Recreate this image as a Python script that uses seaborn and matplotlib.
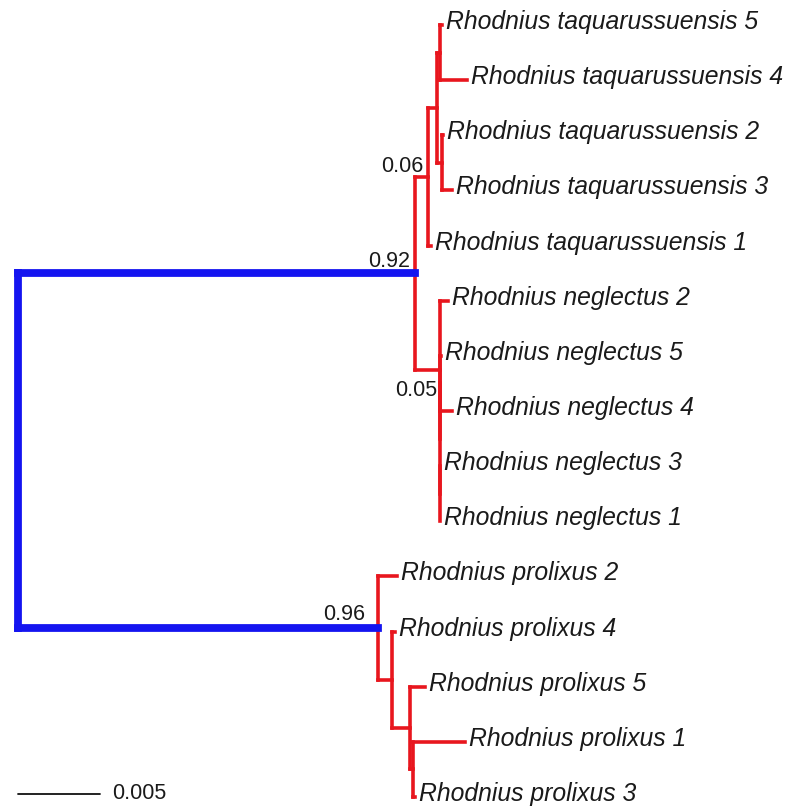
import numpy as np
import pandas as pd
import matplotlib.pyplot as plt
import seaborn as sns

# Leaves, top to bottom, with their parent node and branch length
leaf_labels = ["Rhodnius taquarussuensis 5", "Rhodnius taquarussuensis 4",
               "Rhodnius taquarussuensis 2", "Rhodnius taquarussuensis 3",
               "Rhodnius taquarussuensis 1",
               "Rhodnius neglectus 2", "Rhodnius neglectus 5", "Rhodnius neglectus 4",
               "Rhodnius neglectus 3", "Rhodnius neglectus 1",
               "Rhodnius prolixus 2", "Rhodnius prolixus 4", "Rhodnius prolixus 5",
               "Rhodnius prolixus 1", "Rhodnius prolixus 3"]
leaf_parent = ["C", "C", "D", "D", "A", "N", "N2", "N2", "N3", "N3",
               "L", "E", "F", "G", "G"]
leaf_length = [0.00012, 0.00165, 0.00006, 0.0006, 0.00018,
               0.0005, 0.00004, 0.00073, 0.00003, 0.00003,
               0.00116, 0.00018, 0.00091, 0.00317, 0.00012]

# Internal nodes (parent listed before child)
inner_nodes = ["U", "L", "A", "B", "C", "D", "N", "N1", "N2", "N3", "E", "F", "G"]
inner_parent = ["root", "root", "U", "A", "B", "B", "U", "N", "N1", "N1", "L", "E", "F"]
inner_length = [0.02421, 0.02195, 0.0008, 0.00055, 0.00018, 0.0003, 0.00152,
                0.0, 0.0, 0.0, 0.00085, 0.0011, 0.00018]

# Support values
support_nodes = ["U", "A", "N", "L"]
support_values = ["0.92", "0.06", "0.05", "0.96"]

scale_length = 0.005

# ---- tree layout ----
x = {"root": 0.0}
for n, p, l in zip(inner_nodes, inner_parent, inner_length):
    x[n] = x[p] + l
y = {}
children = {}
for i, (lab, p, l) in enumerate(zip(leaf_labels, leaf_parent, leaf_length)):
    x[lab] = x[p] + l
    y[lab] = i
    children.setdefault(p, []).append(lab)
for n, p in zip(inner_nodes, inner_parent):
    children.setdefault(p, []).append(n)


def node_y(n):
    if n not in y:
        ys = [node_y(c) for c in children[n]]
        y[n] = (min(ys) + max(ys)) / 2
    return y[n]


node_y("root")

parents = dict(zip(inner_nodes, inner_parent))
parents.update(dict(zip(leaf_labels, leaf_parent)))

# one row pair per segment: horizontal branches, then vertical connectors
rows = []
seg = 0
for n, p in parents.items():
    grp = "root" if p == "root" else "rest"
    rows += [(seg, grp, x[p], y[n]), (seg, grp, x[n], y[n])]
    seg += 1
for n, ch in children.items():
    ys = [y[c] for c in ch]
    grp = "root" if n == "root" else "rest"
    rows += [(seg, grp, x[n], min(ys)), (seg, grp, x[n], max(ys))]
    seg += 1
segs = pd.DataFrame(rows, columns=["seg", "grp", "x", "y"])

# ---- drawing ----
sns.set_style("white")
plt.rcParams["font.family"] = ["Liberation Sans", "DejaVu Sans"]

fig = plt.figure(figsize=(7.86, 8.07), dpi=100)
ax = fig.add_axes([0, 0, 1, 1])

sns.lineplot(data=segs[segs.grp == "rest"], x="x", y="y", units="seg",
             estimator=None, sort=False, color="#e8161e", linewidth=2.6,
             legend=False, ax=ax)
sns.lineplot(data=segs[segs.grp == "root"], x="x", y="y", units="seg",
             estimator=None, sort=False, color="#1414f0", linewidth=5.6,
             legend=False, ax=ax)
for line in ax.lines:
    line.set_solid_capstyle("projecting")

for lab in leaf_labels:
    ax.annotate(lab, (x[lab], y[lab]), xytext=(4, 3), textcoords="offset pixels",
                ha="left", va="center", fontsize=17.8, style="italic",
                color="#1a1a1a")

support_offset = {"U": (-5, 6), "A": (-5, 5), "N": (-3, -10), "L": (-13, 8)}
for n, v in zip(support_nodes, support_values):
    dx, dy = support_offset[n]
    ax.annotate(v, (x[n], y[n]), xytext=(dx, dy), textcoords="offset pixels",
                ha="right", va="top" if dy < 0 else "baseline",
                fontsize=15.5, color="#1a1a1a")

# scale bar
bar_y = 13.95
ax.plot([0, scale_length], [bar_y, bar_y], color="#111111", linewidth=1.3)
ax.annotate(f"{scale_length}", (scale_length, bar_y), xytext=(12, 1),
            textcoords="offset pixels", ha="left", va="center",
            fontsize=15.5, color="#1a1a1a")

px_unit = scale_length / 82
ax.set_xlim(-18 * px_unit, (786 - 18) * px_unit)
top_px, row_px = 25, 55.14
ax.set_ylim((807 - top_px) / row_px, -top_px / row_px)
ax.axis("off")

fig.savefig("out.png", dpi=100)
